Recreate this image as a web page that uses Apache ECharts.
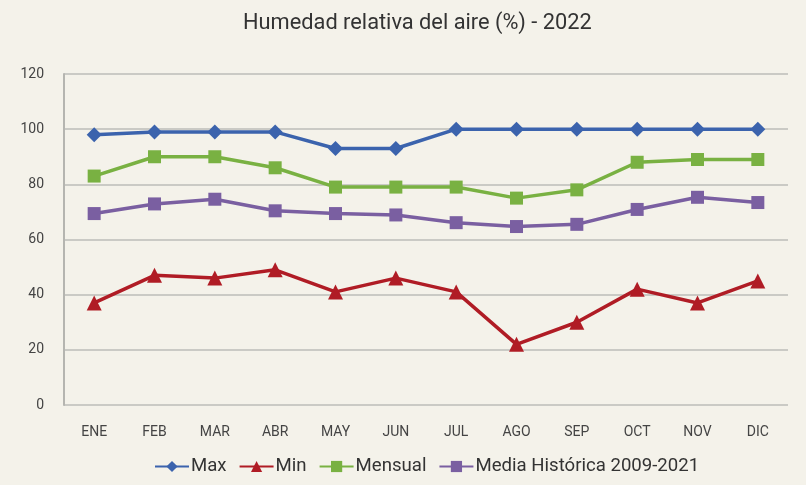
<!DOCTYPE html>
<html>
<head>
<meta charset="utf-8">
<script src="https://cdn.jsdelivr.net/npm/echarts@6/dist/echarts.min.js"></script>
<style>
  html, body { margin: 0; padding: 0; background: #f4f2ea; }
  #chart { width: 806px; height: 485px; }
</style>
</head>
<body>
<div id="chart"></div>
<script>
// Monthly relative humidity, 2022
const months = ['ENE', 'FEB', 'MAR', 'ABR', 'MAY', 'JUN', 'JUL', 'AGO', 'SEP', 'OCT', 'NOV', 'DIC'];
const maxValues = [98, 99, 99, 99, 93, 93, 100, 100, 100, 100, 100, 100];
const minValues = [37, 47, 46, 49, 41, 46, 41, 22, 30, 42, 37, 45];
const monthlyValues = [83, 90, 90, 86, 79, 79, 79, 75, 78, 88, 89, 89];
const historicValues = [69.4, 72.9, 74.6, 70.4, 69.4, 68.9, 66.1, 64.7, 65.5, 70.9, 75.3, 73.4];

const FONT = '"Roboto", "Liberation Sans", sans-serif';

const chart = echarts.init(document.getElementById('chart'));

function lineSeries(name, data, color, symbol, size) {
  return {
    name: name,
    type: 'line',
    data: data,
    symbol: symbol,
    symbolSize: size,
    lineStyle: { color: color, width: 3.5 },
    itemStyle: { color: color },
    animation: false
  };
}

chart.setOption({
  backgroundColor: '#f4f2ea',
  title: {
    text: 'Humedad relativa del aire (%) - 2022',
    left: 238,
    top: 8,
    textStyle: { fontFamily: FONT, fontSize: 21.8, fontWeight: 'normal', color: '#333333' }
  },
  legend: {
    bottom: 4,
    left: 149,
    itemWidth: 34,
    itemHeight: 14,
    itemGap: 12,
    textStyle: { fontFamily: FONT, fontSize: 18.6, color: '#333333', padding: [0, 0, 0, -3] },
    data: ['Max', 'Min', 'Mensual', 'Media Histórica 2009-2021']
  },
  grid: { left: 64, right: 18, top: 74, bottom: 80 },
  xAxis: {
    type: 'category',
    data: months,
    boundaryGap: true,
    axisLine: { show: false },
    axisTick: { show: false },
    axisLabel: { fontFamily: FONT, fontSize: 14, color: '#444444', margin: 20 }
  },
  yAxis: {
    type: 'value',
    min: 0,
    max: 120,
    interval: 20,
    axisLine: { show: true, lineStyle: { color: '#b5b5b0', width: 2 } },
    axisTick: { show: false },
    splitLine: { lineStyle: { color: '#bdbdb8', width: 1.5 } },
    axisLabel: { fontFamily: FONT, fontSize: 14, color: '#444444', margin: 20 }
  },
  series: [
    lineSeries('Max', maxValues, '#3b63ad', 'diamond', 15),
    lineSeries('Min', minValues, '#b01c25', 'triangle', 15),
    lineSeries('Mensual', monthlyValues, '#79b142', 'rect', 13),
    lineSeries('Media Histórica 2009-2021', historicValues, '#7a5fa1', 'rect', 13)
  ]
});
</script>
</body>
</html>
